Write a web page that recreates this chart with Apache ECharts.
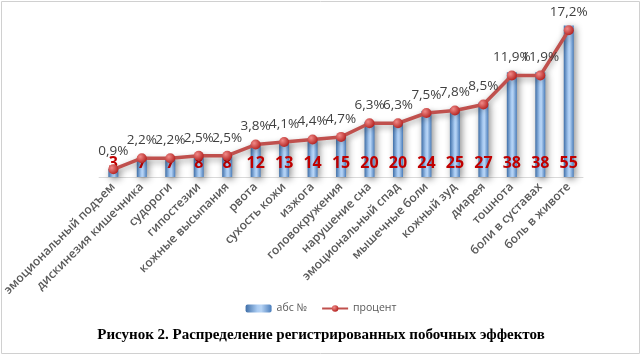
<!DOCTYPE html>
<html><head><meta charset="utf-8">
<script src="https://cdn.jsdelivr.net/npm/echarts@6/dist/echarts.min.js"></script>
<style>html,body{margin:0;padding:0;background:#fff}#c{width:642px;height:356px}</style>
</head><body><div id="c"></div>
<script>
const categories = ['эмоциональный подъем','дискинезия кишечника','судороги','гипостезии','кожные высыпания','рвота','сухость кожи','изжога','головокружения','нарушение сна','эмоциональный спад','мышечные боли','кожный зуд','диарея','тошнота','боли в суставах','боль в животе'];
const absValues = [3,7,7,8,8,12,13,14,15,20,20,24,25,27,38,38,55];
const percentValues = [0.9,2.2,2.2,2.5,2.5,3.8,4.1,4.4,4.7,6.3,6.3,7.5,7.8,8.5,11.9,11.9,17.2];
const seriesNames = ['абс №','процент'];
const titleText = 'Рисунок 2. Распределение регистрированных побочных эффектов';

const chart = echarts.init(document.getElementById('c'));
const barGrad = new echarts.graphic.LinearGradient(0,0,1,0,[
  {offset:0,color:'#3f6fa8'},{offset:0.45,color:'#a9cbf2'},{offset:0.6,color:'#b7d4f5'},{offset:1,color:'#4a7dbb'}]);
chart.setOption({
  animation:false,
  textStyle:{fontFamily:'Open Sans'},
  title:{text:titleText,left:'center',top:323,textStyle:{fontFamily:'Liberation Serif',fontWeight:'bold',fontSize:15,color:'#000'}},
  legend:{data:seriesNames,top:298,left:'center',itemWidth:26,itemHeight:8,itemGap:14,
    textStyle:{fontSize:10.5,color:'#595959'}},
  graphic:[{type:'rect',shape:{x:1.5,y:1.5,width:638,height:352},style:{fill:null,stroke:'#d0d0d0',lineWidth:1}}],
  grid:{left:98,right:59,top:20,bottom:179,containLabel:false},
  xAxis:{type:'category',data:categories,axisTick:{show:false},
    axisLine:{lineStyle:{color:'#d9d9d9'}},
    axisLabel:{rotate:45,interval:0,fontSize:12,fontWeight:600,color:'#595959',margin:8}},
  yAxis:[{type:'value',min:0,max:57,show:false},{type:'value',min:0,max:18.4,show:false}],
  series:[
    {name:seriesNames[0],type:'bar',data:absValues,barWidth:10,yAxisIndex:0,
     itemStyle:{color:barGrad,shadowBlur:7,shadowColor:'rgba(0,0,0,0.45)',shadowOffsetX:2,shadowOffsetY:2},
     label:{show:true,position:'insideBottom',distance:6,fontSize:16,fontWeight:'bold',color:'#c00000',fontFamily:'Open Sans'}},
    {name:seriesNames[1],type:'line',data:percentValues,yAxisIndex:1,symbol:'circle',symbolSize:10,
     lineStyle:{color:'#c0504d',width:3.5,shadowBlur:6,shadowColor:'rgba(0,0,0,0.35)',shadowOffsetY:3},
     itemStyle:{color:new echarts.graphic.RadialGradient(0.35,0.35,0.7,[{offset:0,color:'#f08a88'},{offset:1,color:'#b3201e'}])},
     label:{show:true,position:'top',distance:6,fontSize:13.5,color:'#404040',
       formatter:p=>String(p.value).replace('.',',')+'%'}}
  ]
});
</script></body></html>
